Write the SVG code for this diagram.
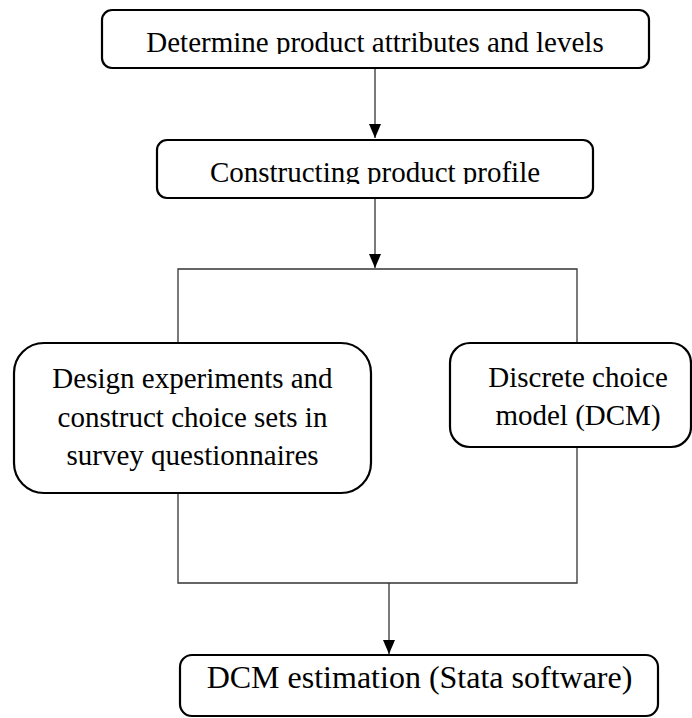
<svg xmlns="http://www.w3.org/2000/svg" width="692" height="718" viewBox="0 0 692 718">
<style>
.box{fill:#fff;stroke:#000;stroke-width:2.2}
.t{font-family:"Liberation Serif","Times New Roman",serif;font-size:29px;fill:#000;text-anchor:middle}
.c{fill:none;stroke:#333;stroke-width:1.3}
</style>
<defs>
<clipPath id="clip1"><rect x="100" y="8" width="552" height="46"/></clipPath>
<clipPath id="clip2"><rect x="155" y="138" width="440" height="46"/></clipPath>
</defs>
<rect width="692" height="718" fill="#fff"/>
<g id="connectors">
<line class="c" x1="375" y1="69" x2="375" y2="138"/>
<path d="M369,124 L381,124 L375,138 Z" fill="#000"/>
<line class="c" x1="375" y1="199" x2="375" y2="268"/>
<path d="M369,254 L381,254 L375,268 Z" fill="#000"/>
<path class="c" d="M178,343 V269 H577 V343"/>
<path class="c" d="M178,493 V583 H577 V447"/>
<line class="c" x1="389" y1="583" x2="389" y2="654"/>
<path d="M383,640 L395,640 L389,654 Z" fill="#000"/>
</g>
<g id="n1">
<rect class="box" x="102" y="10" width="547" height="58" rx="10"/>
<text class="t" x="375" y="52" clip-path="url(#clip1)">Determine product attributes and levels</text>
</g>
<g id="n2">
<rect class="box" x="157" y="140" width="436" height="58" rx="10"/>
<text class="t" x="375" y="182" clip-path="url(#clip2)">Constructing product profile</text>
</g>
<g id="n3">
<rect class="box" x="14" y="343" width="357" height="150" rx="30"/>
<text class="t" x="192.5" y="388">Design experiments and</text>
<text class="t" x="192.5" y="427">construct choice sets in</text>
<text class="t" x="192.5" y="465">survey questionnaires</text>
</g>
<g id="n4">
<rect class="box" x="450" y="343" width="241" height="104" rx="20"/>
<text class="t" x="578" y="387">Discrete choice</text>
<text class="t" x="578" y="425">model (DCM)</text>
</g>
<g id="n5">
<rect class="box" x="180" y="655" width="478" height="61" rx="12"/>
<text class="t" x="419.5" y="688" style="font-size:32px">DCM estimation (Stata software)</text>
</g>
</svg>
